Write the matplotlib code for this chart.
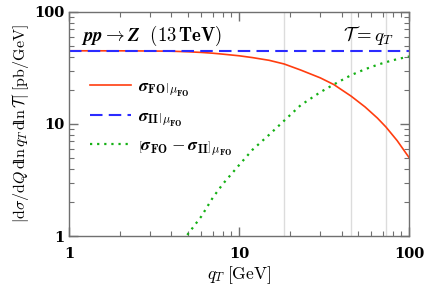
import matplotlib
matplotlib.use("Agg")
import matplotlib.pyplot as plt
from matplotlib.ticker import FixedLocator, LogLocator, NullFormatter

plt.rcParams["mathtext.fontset"] = "cm"
plt.rcParams["font.family"] = "serif"
plt.rcParams["font.serif"] = ["DejaVu Serif"]

# fixed-order and singular cross sections
QT_FO = [1, 2, 3, 4, 5, 6, 7, 8, 10, 12, 15, 18.4, 23, 30, 36, 45.6, 55, 65, 73, 85, 100]
SIGMA_FO = [45.0, 44.95, 44.8, 44.6, 44.1, 43.5, 42.8, 42.0, 40.6, 39.1, 37.0, 34.3,
            30.3, 25.8, 22.5, 17.7, 14.2, 11.3, 9.4, 7.1, 5.0]
QT_SING = [1, 100]
SIGMA_SING = [45.0, 45.0]
QT_NS = [3, 4, 4.9, 6, 7, 8, 10, 12, 15, 18.4, 23, 30, 36, 45.6, 55, 65, 73, 85, 100]
SIGMA_NS = [0.35, 0.65, 1.0, 1.5, 2.2, 2.9, 4.3, 5.9, 8.0, 10.7, 14.7, 19.2, 22.5,
            27.3, 30.8, 33.7, 35.6, 37.9, 40.0]
MZ = 91.1876
GRID_Q = [MZ / 5, MZ / 2, 0.8 * MZ]
TICKS = [1, 10, 100]
TICK_LABELS = ["1", "10", "100"]

RED = "#ff3d0f"
BLUE = "#2b2bff"
GREEN = "#14b014"
FRAME = "#707070"


def main():
    fig = plt.figure(figsize=(4.24, 2.98), dpi=100)
    ax = fig.add_axes([0.163, 0.208, 0.802, 0.752])

    for q in GRID_Q:
        ax.axvline(q, color="#dcdcdc", linewidth=1.0, zorder=0)

    ax.plot(QT_FO, SIGMA_FO, color=RED, linewidth=1.2,
            label=r"$\left.\boldsymbol{\sigma}_{\mathbf{FO}}\right|_{\mu_{\mathbf{FO}}}$")
    ax.plot(QT_SING, SIGMA_SING, color=BLUE, linewidth=1.5, dashes=(6, 3),
            label=r"$\left.\boldsymbol{\sigma}_{\mathbf{II}}\right|_{\mu_{\mathbf{FO}}}$")
    ax.plot(QT_NS, SIGMA_NS, color=GREEN, linewidth=1.6, dashes=(1, 2.2),
            label=r"$\left[\boldsymbol{\sigma}_{\mathbf{FO}}-\boldsymbol{\sigma}_{\mathbf{II}}\right]_{\mu_{\mathbf{FO}}}$")

    ax.set_xscale("log")
    ax.set_yscale("log")
    ax.set_xlim(1, 100)
    ax.set_ylim(1, 100)

    ax.xaxis.set_major_locator(FixedLocator(TICKS))
    ax.yaxis.set_major_locator(FixedLocator(TICKS))
    ax.xaxis.set_minor_locator(LogLocator(base=10, subs=range(2, 10)))
    ax.yaxis.set_minor_locator(LogLocator(base=10, subs=range(2, 10)))
    ax.xaxis.set_minor_formatter(NullFormatter())
    ax.yaxis.set_minor_formatter(NullFormatter())
    ax.set_xticklabels(TICK_LABELS, fontweight="bold", fontsize=10.5)
    ax.set_yticklabels(TICK_LABELS, fontweight="bold", fontsize=10.5)

    ax.tick_params(which="both", direction="in", top=True, right=True,
                   color=FRAME)
    ax.tick_params(which="major", length=6.5, width=1.0)
    ax.tick_params(which="minor", length=3.5, width=0.8)
    ax.tick_params(axis="x", which="major", pad=8)
    ax.tick_params(axis="y", which="major", pad=3)
    for s in ax.spines.values():
        s.set_color(FRAME)
        s.set_linewidth(1.0)

    ax.set_xlabel(r"$q_T\;[\mathrm{GeV}]$", fontsize=12.5, labelpad=2)
    ax.set_ylabel(r"$|\mathrm{d}\sigma/\mathrm{d}Q\,\mathrm{d}\!\ln q_T\,\mathrm{d}\!\ln\mathcal{T}|\;[\mathrm{pb/GeV}]$",
                  fontsize=11.5, labelpad=3)

    ax.text(0.035, 0.895, r"$\boldsymbol{pp} \to \boldsymbol{Z}\ \ \mathbf{(13\,TeV)}$",
            transform=ax.transAxes, fontsize=13.5, ha="left", va="center")
    ax.text(0.955, 0.895, r"$\boldsymbol{\mathcal{T}} = \boldsymbol{q_T}$",
            transform=ax.transAxes, fontsize=13.5, ha="right", va="center")

    ax.legend(loc="upper left", bbox_to_anchor=(0.04, 0.735), frameon=False,
              fontsize=12.5, handlelength=2.4, handletextpad=0.4,
              labelspacing=0.55, borderaxespad=0)

    fig.savefig("out.png", dpi=100)
    plt.close(fig)


if __name__ == "__main__":
    main()
